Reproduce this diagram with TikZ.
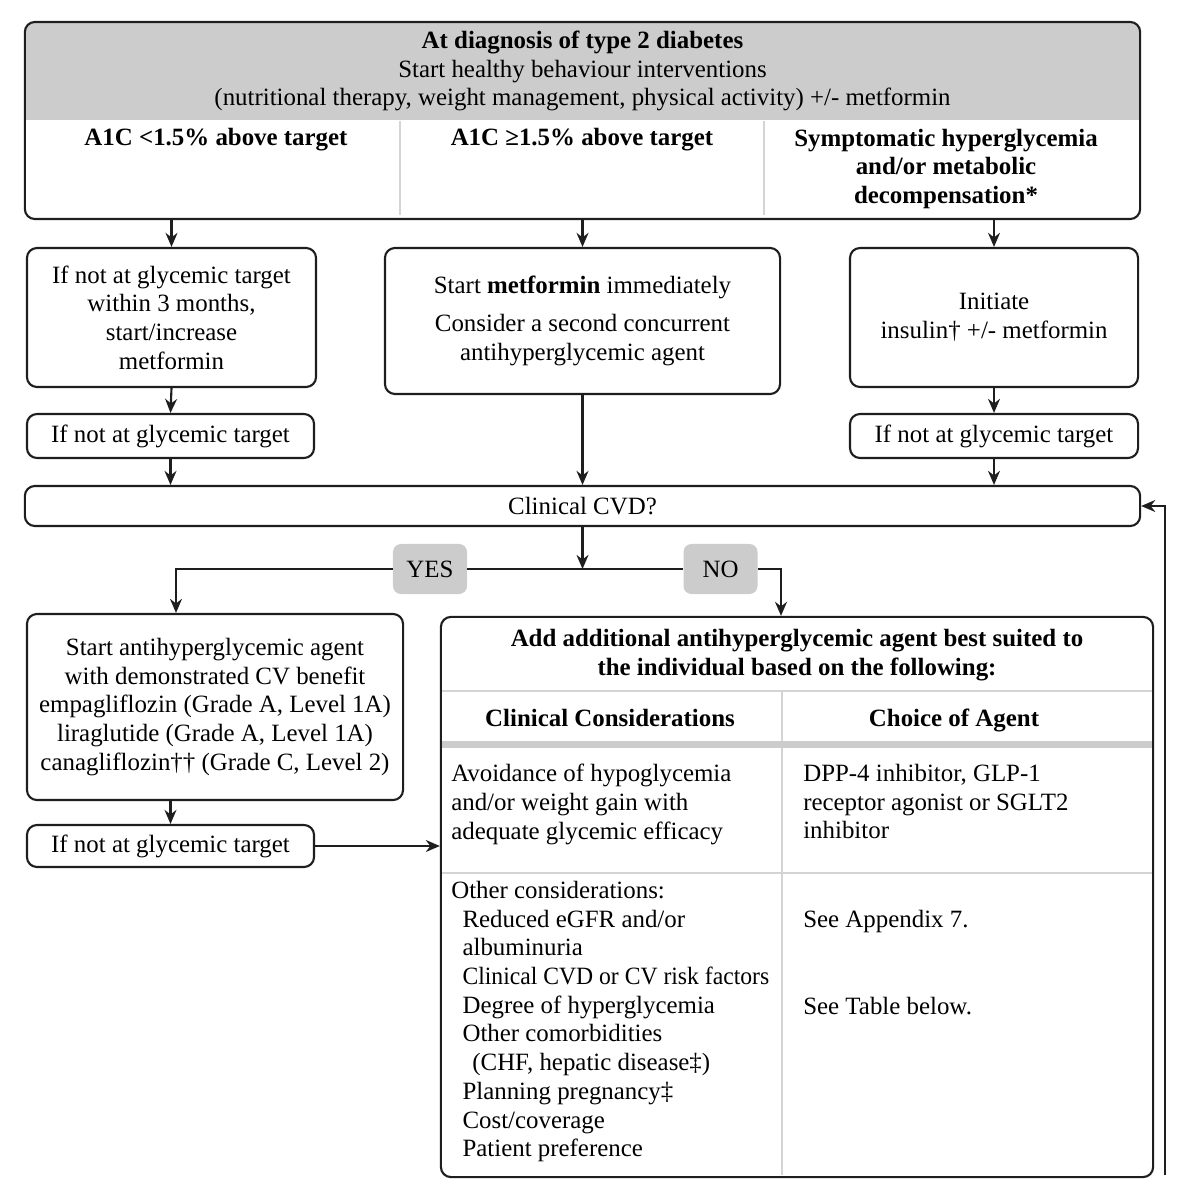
\documentclass[tikz,border=0pt]{standalone}
\usepackage{fontspec}
\setmainfont{Liberation Serif}
\usetikzlibrary{arrows.meta}

\definecolor{linec}{RGB}{30,30,30}
\definecolor{hdrgray}{RGB}{204,204,204}
\definecolor{rulegray}{RGB}{212,212,212}

\begin{document}
\begin{tikzpicture}[x=0.025cm, y=-0.025cm,
    font=\fontsize{17.7}{20.4}\selectfont,
    box/.style={draw=linec, line width=1.5pt, rounded corners=0.25cm, align=center, inner sep=0pt},
    tag/.style={fill=hdrgray, rounded corners=0.2cm, inner sep=0pt},
    cell/.style={anchor=north west, align=left, inner sep=0pt},
    divider/.style={draw=rulegray, line width=1.4pt},
    line/.style={draw=linec, line width=1.5pt},
    arr/.style={line, -{Stealth[length=10pt,width=8.5pt]}}]
  \useasboundingbox (0,0) rectangle (1195,1200);

  % Diagnose-boks med grå topp
  \begin{scope}
    \clip (25,22) rectangle (1140,120);
    \fill[hdrgray, rounded corners=0.25cm] (25,22) rectangle (1140,219);
  \end{scope}
  \node[box, minimum width=27.875cm, minimum height=4.925cm] (diag) at (582.5,120.5) {};
  \node[align=center] (diaghead) at (582.5,71) {\textbf{At diagnosis of type 2 diabetes}\\Start healthy behaviour interventions\\(nutritional therapy, weight management, physical activity) +/- metformin};
  \draw[divider] (400,121) -- (400,215);
  \draw[divider] (764,121) -- (764,215);
  \node (lowa1c) at (216,140) {\textbf{A1C <1.5\% above target}};
  \node (higha1c) at (582,140) {\textbf{A1C ≥1.5\% above target}};
  \node[align=center] (sympt) at (946,169) {\textbf{Symptomatic hyperglycemia}\\\textbf{and/or metabolic}\\\textbf{decompensation*}};

  % Tre greiner
  \node[box, minimum width=7.225cm, minimum height=3.475cm] (lowbox) at (171.5,317.5) {If not at glycemic target\\within 3 months,\\start/increase\\metformin};
  \node[box, minimum width=9.875cm, minimum height=3.65cm] (highbox) at (582.5,321) {Start \textbf{metformin} immediately\\[7pt]Consider a second concurrent\\antihyperglycemic agent};
  \node[box, minimum width=7.2cm, minimum height=3.475cm] (symbox) at (994,317.5) {Initiate\\insulin† +/- metformin};
  \node[box, minimum width=7.175cm, minimum height=1.1cm] (lowchk) at (170.5,436) {If not at glycemic target};
  \node[box, minimum width=7.2cm, minimum height=1.1cm] (symchk) at (994,436) {If not at glycemic target};

  % Klinisk CVD
  \node[box, minimum width=27.875cm, minimum height=1cm] (cvd) at (582.5,506) {Clinical CVD?};
  \coordinate (split) at (582.5,569);
  \node[tag, minimum width=1.85cm, minimum height=1.25cm] (yes) at (430,569) {YES};
  \node[tag, minimum width=1.85cm, minimum height=1.25cm] (no) at (720.5,569) {NO};
  \coordinate (yesturn) at (176,569);
  \coordinate (noturn) at (781,569);

  % JA-grein
  \node[box, minimum width=9.4cm, minimum height=4.65cm] (cvbox) at (215,707) {Start antihyperglycemic agent\\with demonstrated CV benefit\\empagliflozin (Grade A, Level 1A)\\liraglutide (Grade A, Level 1A)\\canagliflozin†† (Grade C, Level 2)};
  \node[box, minimum width=7.175cm, minimum height=1.05cm] (cvchk) at (170.5,846) {If not at glycemic target};

  % NEI-grein med tabell
  \node[box, minimum width=17.8cm, minimum height=14cm] (addbox) at (797,897) {};
  \draw[divider] (442,691) -- (1152,691);
  \draw[divider] (782,691) -- (782,1175);
  \fill[hdrgray] (442,741) rectangle (1152,748);
  \draw[divider] (442,873) -- (1152,873);
  \node[align=center] (addhead) at (797,655) {\textbf{Add additional antihyperglycemic agent best suited to}\\\textbf{the individual based on the following:}};
  \node[anchor=base] (conshead) at (610,726) {\textbf{Clinical Considerations}};
  \node[anchor=base] (agenthead) at (954,726) {\textbf{Choice of Agent}};
  \node[cell] (hypo) at (451,764) {Avoidance of hypoglycemia\\and/or weight gain with\\adequate glycemic efficacy};
  \node[cell] (hypoagent) at (803,764) {DPP-4 inhibitor, GLP-1\\receptor agonist or SGLT2\\inhibitor};
  \node[cell] (other) at (451,881) {Other considerations:\\\hspace*{8pt}Reduced eGFR and/or\\\hspace*{8pt}albuminuria\\\hspace*{8pt}{\addfontfeatures{FakeStretch=0.95}Clinical CVD or CV risk factors}\\\hspace*{8pt}Degree of hyperglycemia\\\hspace*{8pt}Other comorbidities\\\hspace*{15pt}(CHF, hepatic disease‡)\\\hspace*{8pt}Planning pregnancy‡\\\hspace*{8pt}Cost/coverage\\\hspace*{8pt}Patient preference};
  \node[cell] (appx) at (803,910) {See Appendix 7.};
  \node[cell] (tablebelow) at (803,997) {See Table below.};

  % Piler
  \draw[arr] (diag.south -| lowbox.north) -- (lowbox.north);
  \draw[arr] (diag.south -| highbox.north) -- (highbox.north);
  \draw[arr] (diag.south -| symbox.north) -- (symbox.north);
  \draw[arr] (lowbox.south) -- (lowchk.north);
  \draw[arr] (symbox.south) -- (symchk.north);
  \draw[arr] (lowchk.south) -- (lowchk.south |- cvd.north);
  \draw[arr] (highbox.south) -- (highbox.south |- cvd.north);
  \draw[arr] (symchk.south) -- (symchk.south |- cvd.north);
  \draw[arr] (cvd.south) -- (split);
  \draw[line] (yes.east) -- (no.west);
  \draw[arr] (yes.west) -- (yesturn) -- (yesturn |- cvbox.north);
  \draw[arr] (no.east) -- (noturn) -- (noturn |- addbox.north);
  \draw[arr] (cvbox.south -| cvchk.north) -- (cvchk.north);
  \draw[arr] (cvchk.east) -- (cvchk.east -| addbox.west);
  \coordinate (loopfoot) at (1165,1175);
  \draw[arr] (loopfoot) |- (cvd.east);
\end{tikzpicture}
\end{document}
